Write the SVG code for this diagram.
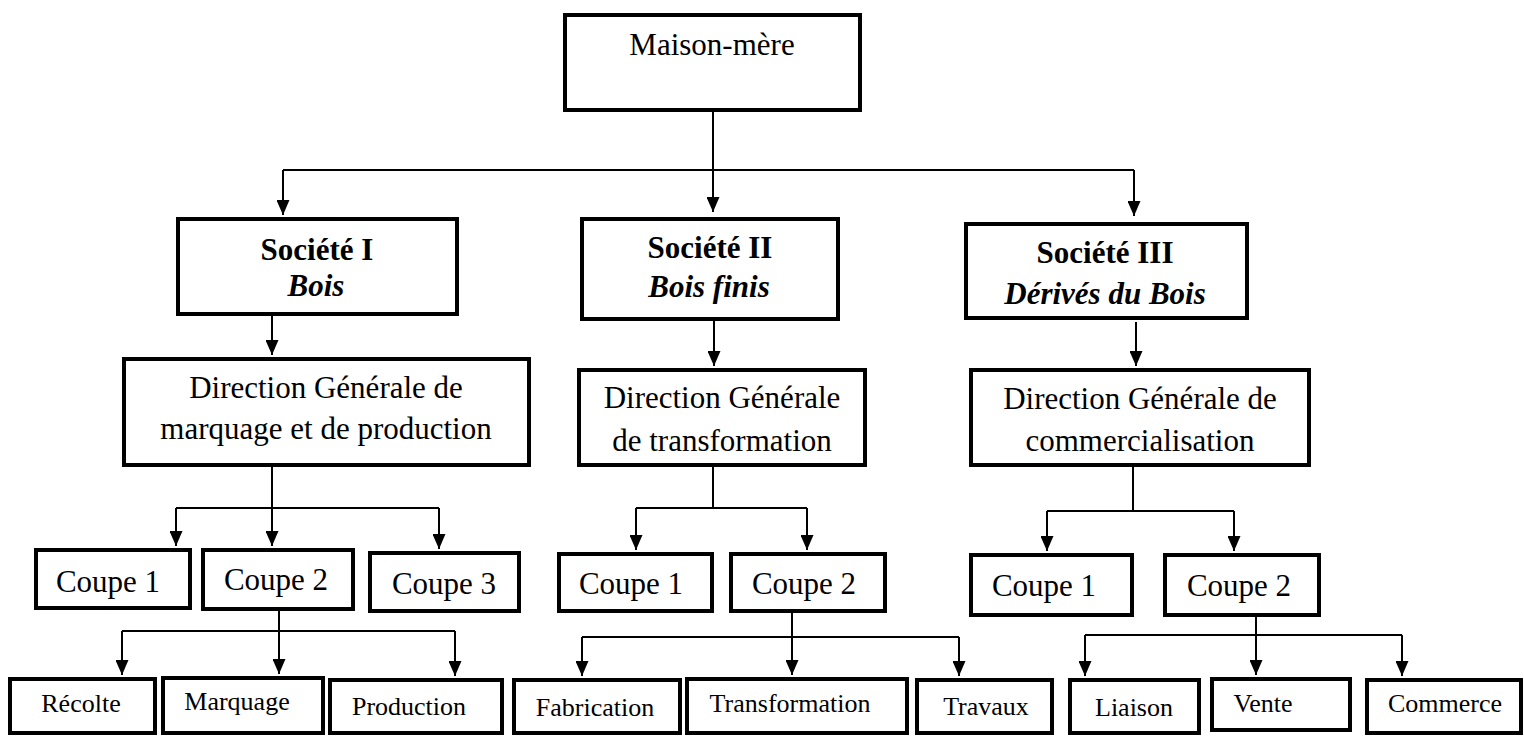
<svg xmlns="http://www.w3.org/2000/svg" width="1524" height="736" viewBox="0 0 1524 736">
  <style>
    .box { fill: #ffffff; stroke: #000000; stroke-width: 4; }
    .lbl { font-family: "Liberation Serif", "Times New Roman", serif; fill: #000000; text-anchor: middle; }
    .big { font-size: 31px; }
    .small { font-size: 26px; }
    .head { font-size: 31px; font-weight: bold; }
    .sub { font-size: 31px; font-weight: bold; font-style: italic; }
    .wire { fill: none; stroke: #000000; stroke-width: 2; }
    .arrow { fill: none; stroke: #000000; stroke-width: 2; marker-end: url(#tip); }
  </style>
  <defs>
    <marker id="tip" markerUnits="userSpaceOnUse" markerWidth="15" markerHeight="13" refX="15" refY="6.5" orient="auto">
      <path d="M0,0 L15,6.5 L0,13 Z" fill="#000000"/>
    </marker>
  </defs>
  <rect width="1524" height="736" fill="#ffffff"/>

  <!-- connectors -->
  <g id="connectors">
    <!-- parent company to the three companies -->
    <path class="wire" d="M713,110 V170 M283,170 H1134"/>
    <path class="arrow" d="M283,170 V215"/>
    <path class="arrow" d="M713,170 V212"/>
    <path class="arrow" d="M1134,170 V216"/>
    <!-- companies to general directions -->
    <path class="arrow" d="M272,316 V355"/>
    <path class="arrow" d="M714,321 V366"/>
    <path class="arrow" d="M1136,322 V366"/>
    <!-- direction I to cuts -->
    <path class="wire" d="M272,465 V508 M176,508 H439"/>
    <path class="arrow" d="M176,508 V546"/>
    <path class="arrow" d="M272,508 V546"/>
    <path class="arrow" d="M439,508 V549"/>
    <!-- direction II to cuts -->
    <path class="wire" d="M713,465 V508 M636,508 H807"/>
    <path class="arrow" d="M636,508 V550"/>
    <path class="arrow" d="M807,508 V550"/>
    <!-- direction III to cuts -->
    <path class="wire" d="M1133,465 V511 M1047,511 H1234"/>
    <path class="arrow" d="M1047,511 V551"/>
    <path class="arrow" d="M1234,511 V551"/>
    <!-- cut 2 (I) to activities -->
    <path class="wire" d="M279,611 V631 M122,631 H455"/>
    <path class="arrow" d="M122,631 V675"/>
    <path class="arrow" d="M279,631 V674"/>
    <path class="arrow" d="M455,631 V676"/>
    <!-- cut 2 (II) to activities -->
    <path class="wire" d="M792,613 V637 M582,637 H959"/>
    <path class="arrow" d="M582,637 V676"/>
    <path class="arrow" d="M792,637 V675"/>
    <path class="arrow" d="M959,637 V676"/>
    <!-- cut 2 (III) to activities -->
    <path class="wire" d="M1256,617 V635 M1085,635 H1402"/>
    <path class="arrow" d="M1085,635 V676"/>
    <path class="arrow" d="M1256,635 V675"/>
    <path class="arrow" d="M1402,635 V676"/>
  </g>

  <!-- top level -->
  <g id="maison-mere">
    <rect class="box" x="565" y="15" width="295" height="95"/>
    <text class="lbl big" x="712" y="55">Maison-mère</text>
  </g>

  <!-- companies -->
  <g id="societe-1">
    <rect class="box" x="178" y="219" width="279" height="95"/>
    <text class="lbl head" x="317" y="260">Société I</text>
    <text class="lbl sub" x="316" y="296">Bois</text>
  </g>
  <g id="societe-2">
    <rect class="box" x="582" y="219" width="256" height="100"/>
    <text class="lbl head" x="710" y="258">Société II</text>
    <text class="lbl sub" x="709" y="297">Bois finis</text>
  </g>
  <g id="societe-3">
    <rect class="box" x="966" y="224" width="281" height="94"/>
    <text class="lbl head" x="1105" y="263">Société III</text>
    <text class="lbl sub" x="1105" y="304">Dérivés du Bois</text>
  </g>

  <!-- general directions -->
  <g id="direction-1">
    <rect class="box" x="124" y="359" width="405" height="106"/>
    <text class="lbl big" x="326" y="398">Direction Générale de</text>
    <text class="lbl big" x="326" y="439">marquage et de production</text>
  </g>
  <g id="direction-2">
    <rect class="box" x="579" y="370" width="286" height="95"/>
    <text class="lbl big" x="722" y="408">Direction Générale</text>
    <text class="lbl big" x="722" y="451">de transformation</text>
  </g>
  <g id="direction-3">
    <rect class="box" x="971" y="370" width="338" height="95"/>
    <text class="lbl big" x="1140" y="409">Direction Générale de</text>
    <text class="lbl big" x="1140" y="451">commercialisation</text>
  </g>

  <!-- cuts -->
  <g id="coupe-1-1">
    <rect class="box" x="36" y="550" width="154" height="58"/>
    <text class="lbl big" x="108" y="592">Coupe 1</text>
  </g>
  <g id="coupe-1-2">
    <rect class="box" x="203" y="550" width="150" height="59"/>
    <text class="lbl big" x="276" y="590">Coupe 2</text>
  </g>
  <g id="coupe-1-3">
    <rect class="box" x="370" y="553" width="149" height="58"/>
    <text class="lbl big" x="444" y="594">Coupe 3</text>
  </g>
  <g id="coupe-2-1">
    <rect class="box" x="559" y="554" width="153" height="57"/>
    <text class="lbl big" x="631" y="594">Coupe 1</text>
  </g>
  <g id="coupe-2-2">
    <rect class="box" x="731" y="554" width="154" height="57"/>
    <text class="lbl big" x="804" y="594">Coupe 2</text>
  </g>
  <g id="coupe-3-1">
    <rect class="box" x="971" y="555" width="161" height="60"/>
    <text class="lbl big" x="1044" y="596">Coupe 1</text>
  </g>
  <g id="coupe-3-2">
    <rect class="box" x="1165" y="555" width="154" height="60"/>
    <text class="lbl big" x="1239" y="596">Coupe 2</text>
  </g>

  <!-- activities -->
  <g id="recolte">
    <rect class="box" x="10" y="679" width="145" height="54"/>
    <text class="lbl small" x="81" y="712">Récolte</text>
  </g>
  <g id="marquage">
    <rect class="box" x="163" y="678" width="160" height="55"/>
    <text class="lbl small" x="237" y="710">Marquage</text>
  </g>
  <g id="production">
    <rect class="box" x="330" y="680" width="172" height="53"/>
    <text class="lbl small" x="409" y="715">Production</text>
  </g>
  <g id="fabrication">
    <rect class="box" x="514" y="680" width="166" height="53"/>
    <text class="lbl small" x="595" y="716">Fabrication</text>
  </g>
  <g id="transformation">
    <rect class="box" x="687" y="679" width="220" height="54"/>
    <text class="lbl small" x="790" y="712">Transformation</text>
  </g>
  <g id="travaux">
    <rect class="box" x="917" y="680" width="135" height="53"/>
    <text class="lbl small" x="986" y="715">Travaux</text>
  </g>
  <g id="liaison">
    <rect class="box" x="1070" y="680" width="129" height="53"/>
    <text class="lbl small" x="1134" y="716">Liaison</text>
  </g>
  <g id="vente">
    <rect class="box" x="1212" y="679" width="138" height="51"/>
    <text class="lbl small" x="1263" y="712">Vente</text>
  </g>
  <g id="commerce">
    <rect class="box" x="1367" y="680" width="154" height="53"/>
    <text class="lbl small" x="1445" y="712">Commerce</text>
  </g>
</svg>
